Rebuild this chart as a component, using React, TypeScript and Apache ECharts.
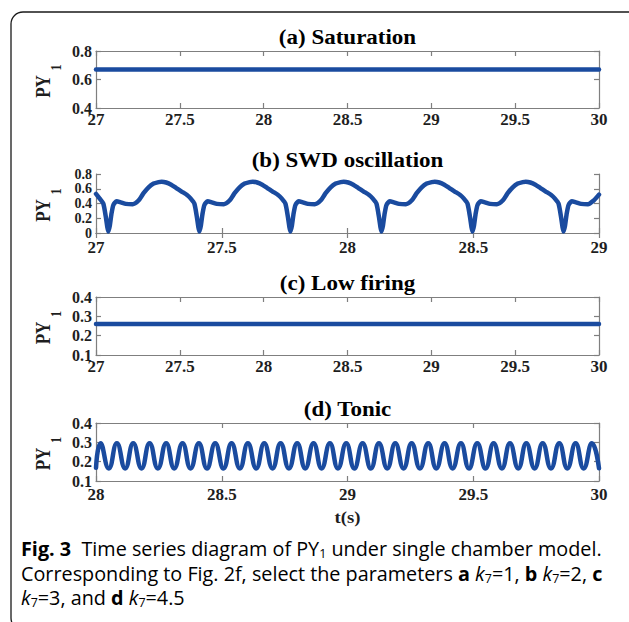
import React, { useEffect, useRef } from "react";
import * as echarts from "echarts";

// ---------- data ----------
const satTime = [27, 30];
const satValues = [0.67, 0.67];

const lowTime = [27, 30];
const lowValues = [0.26, 0.26];

const swdTime = [
  27.0, 27.014, 27.029, 27.039, 27.045,
  27.049, 27.055, 27.061, 27.069, 27.082, 27.099, 27.119, 27.146, 27.169, 27.189, 27.209, 27.229, 27.249, 27.261, 27.279, 27.299, 27.319, 27.339, 27.362, 27.376, 27.391, 27.401, 27.407,
  27.411, 27.417, 27.423, 27.431, 27.444, 27.461, 27.481, 27.508, 27.531, 27.551, 27.571, 27.591, 27.611, 27.623, 27.641, 27.661, 27.681, 27.701, 27.724, 27.738, 27.753, 27.763, 27.769,
  27.773, 27.779, 27.785, 27.793, 27.806, 27.823, 27.843, 27.87, 27.893, 27.913, 27.933, 27.953, 27.973, 27.985, 28.003, 28.023, 28.043, 28.063, 28.086, 28.1, 28.115, 28.125, 28.131,
  28.135, 28.141, 28.147, 28.155, 28.168, 28.185, 28.205, 28.232, 28.255, 28.275, 28.295, 28.315, 28.335, 28.347, 28.365, 28.385, 28.405, 28.425, 28.448, 28.462, 28.477, 28.487, 28.493,
  28.497, 28.503, 28.509, 28.517, 28.53, 28.547, 28.567, 28.594, 28.617, 28.637, 28.657, 28.677, 28.697, 28.709, 28.727, 28.747, 28.767, 28.787, 28.81, 28.824, 28.839, 28.849, 28.855,
  28.859, 28.865, 28.871, 28.879, 28.892, 28.909, 28.929, 28.956, 28.979, 29.0,
];
const swdValues = [
  0.53, 0.47, 0.4, 0.22, 0.08,
  0.02, 0.1, 0.25, 0.38, 0.43, 0.415, 0.395, 0.39, 0.44, 0.54, 0.62, 0.67, 0.69, 0.695, 0.685, 0.655, 0.61, 0.565, 0.516, 0.47, 0.4, 0.22, 0.08,
  0.02, 0.1, 0.25, 0.38, 0.43, 0.415, 0.395, 0.39, 0.44, 0.54, 0.62, 0.67, 0.69, 0.695, 0.685, 0.655, 0.61, 0.565, 0.516, 0.47, 0.4, 0.22, 0.08,
  0.02, 0.1, 0.25, 0.38, 0.43, 0.415, 0.395, 0.39, 0.44, 0.54, 0.62, 0.67, 0.69, 0.695, 0.685, 0.655, 0.61, 0.565, 0.516, 0.47, 0.4, 0.22, 0.08,
  0.02, 0.1, 0.25, 0.38, 0.43, 0.415, 0.395, 0.39, 0.44, 0.54, 0.62, 0.67, 0.69, 0.695, 0.685, 0.655, 0.61, 0.565, 0.516, 0.47, 0.4, 0.22, 0.08,
  0.02, 0.1, 0.25, 0.38, 0.43, 0.415, 0.395, 0.39, 0.44, 0.54, 0.62, 0.67, 0.69, 0.695, 0.685, 0.655, 0.61, 0.565, 0.516, 0.47, 0.4, 0.22, 0.08,
  0.02, 0.1, 0.25, 0.38, 0.43, 0.415, 0.395, 0.39, 0.44, 0.52,
];

const tonicTime = [
  28.0,
  28.018, 28.051, 28.083, 28.116, 28.148, 28.181, 28.213, 28.246, 28.279, 28.311,
  28.344, 28.376, 28.409, 28.441, 28.474, 28.507, 28.539, 28.572, 28.604, 28.637,
  28.669, 28.702, 28.734, 28.767, 28.8, 28.832, 28.865, 28.897, 28.93, 28.962,
  28.995, 29.027, 29.06, 29.093, 29.125, 29.158, 29.19, 29.223, 29.255, 29.288,
  29.321, 29.353, 29.386, 29.418, 29.451, 29.483, 29.516, 29.549, 29.581, 29.614,
  29.646, 29.679, 29.711, 29.744, 29.776, 29.809, 29.842, 29.874, 29.907, 29.939,
  29.972, 30.0,
];
const tonicValues = [
  0.168,
  0.295, 0.165, 0.295, 0.165, 0.295, 0.165, 0.295, 0.165, 0.295, 0.165,
  0.295, 0.165, 0.295, 0.165, 0.295, 0.165, 0.295, 0.165, 0.295, 0.165,
  0.295, 0.165, 0.295, 0.165, 0.295, 0.165, 0.295, 0.165, 0.295, 0.165,
  0.295, 0.165, 0.295, 0.165, 0.295, 0.165, 0.295, 0.165, 0.295, 0.165,
  0.295, 0.165, 0.295, 0.165, 0.295, 0.165, 0.295, 0.165, 0.295, 0.165,
  0.295, 0.165, 0.295, 0.165, 0.295, 0.165, 0.295, 0.165, 0.295, 0.165,
  0.295, 0.166,
];

const panelTitles = ["(a) Saturation", "(b) SWD oscillation", "(c) Low firing", "(d) Tonic"];
const xMins = [27, 27, 27, 28];
const xMaxs = [30, 29, 30, 30];
const xStep = 0.5;
const yMins = [0.4, 0, 0.1, 0.1];
const yMaxs = [0.8, 0.8, 0.4, 0.4];
const ySteps = [0.2, 0.2, 0.1, 0.1];
const yNameMain = "PY";
const yNameSub = "1";
const xName = "t(s)";

// ---------- layout / style ----------
const GRID_LEFT = 96;
const GRID_WIDTH = 503;
const gridTops = [51, 174, 297, 423];
const gridHeights = [57, 59, 58, 58];
const yLabelSizes = [16, 14, 16, 16];
const xLabelMargins = [4, 7, 4, 6];
const LINE_COLOR = "#1a4b9f";
const AXIS_COLOR = "#7f7f7f";
const TEXT_COLOR = "#1e1e1e";
const SERIF = '"Liberation Serif", "Times New Roman", serif';
const SANS = '"Open Sans", "Noto Sans", sans-serif';

const zip = (a: number[], b: number[]) => a.map((t, i) => [t, b[i]]);

export default function App() {
  const ref = useRef<HTMLDivElement>(null);

  useEffect(() => {
    if (!ref.current) return;
    const chart = echarts.init(ref.current, undefined, { renderer: "svg" });

    const seriesData = [zip(satTime, satValues), zip(swdTime, swdValues), zip(lowTime, lowValues), zip(tonicTime, tonicValues)];

    const grids: any[] = [];
    const xAxes: any[] = [];
    const yAxes: any[] = [];
    const series: any[] = [];
    const graphics: any[] = [];

    const labelStyle = { color: TEXT_COLOR, fontFamily: SERIF, fontWeight: "bold", fontSize: 17 };

    for (let i = 0; i < 4; i++) {
      grids.push({ left: GRID_LEFT, top: gridTops[i], width: GRID_WIDTH, height: gridHeights[i], containLabel: false });
      const common = {
        type: "value",
        gridIndex: i,
        min: xMins[i],
        max: xMaxs[i],
        interval: xStep,
        axisLine: { show: true, lineStyle: { color: AXIS_COLOR, width: 1.2 } },
        axisTick: { show: true, inside: true, length: 5, lineStyle: { color: AXIS_COLOR, width: 1.2 } },
        splitLine: { show: false },
      };
      xAxes.push({
        ...common,
        position: "bottom",
        axisLabel: { ...labelStyle, margin: xLabelMargins[i], lineHeight: 14, showMinLabel: true, showMaxLabel: true, hideOverlap: false },
      });
      xAxes.push({ ...common, position: "top", axisLabel: { show: false } });
      const ycommon = {
        type: "value",
        gridIndex: i,
        min: yMins[i],
        max: yMaxs[i],
        interval: ySteps[i],
        axisLine: { show: true, lineStyle: { color: AXIS_COLOR, width: 1.2 } },
        axisTick: { show: true, inside: true, length: 5, lineStyle: { color: AXIS_COLOR, width: 1.2 } },
        splitLine: { show: false },
      };
      yAxes.push({
        ...ycommon,
        position: "left",
        axisLabel: {
          ...labelStyle,
          fontSize: yLabelSizes[i],
          lineHeight: 12,
          margin: 4,
          showMinLabel: true,
          showMaxLabel: true,
          hideOverlap: false,
        },
      });
      yAxes.push({ ...ycommon, position: "right", axisLabel: { show: false } });

      series.push({
        type: "line",
        xAxisIndex: i * 2,
        yAxisIndex: i * 2,
        data: seriesData[i],
        showSymbol: false,
        smooth: i === 3 ? 0.5 : i === 1 ? 0.2 : false,
        lineStyle: { color: LINE_COLOR, width: 4.5, cap: "round", join: "round" },
        silent: true,
      });

      // panel title
      graphics.push({
        type: "text",
        x: GRID_LEFT + GRID_WIDTH / 2,
        y: gridTops[i] - 13,
        scaleX: 1.15,
        style: {
          text: panelTitles[i],
          fill: "#000",
          font: `bold 20px ${SERIF}`,
          align: "center",
          verticalAlign: "middle",
          textAlign: "center",
          textVerticalAlign: "middle",
        },
      });

      // y axis name PY_1 rotated
      const cy = gridTops[i] + gridHeights[i] / 2 + 7;
      graphics.push({
        type: "group",
        x: 43,
        y: cy,
        rotation: Math.PI / 2,
        children: [
          {
            type: "text",
            x: 0,
            y: 0,
            scaleY: 1.25,
            style: {
              text: yNameMain,
              fill: TEXT_COLOR,
              font: `bold 17px ${SERIF}`,
              align: "center",
              verticalAlign: "middle",
              textAlign: "center",
              textVerticalAlign: "middle",
            },
          },
          {
            type: "text",
            x: 19,
            y: 13,
            scaleY: 1.25,
            style: {
              text: yNameSub,
              fill: TEXT_COLOR,
              font: `bold 12px ${SERIF}`,
              align: "center",
              verticalAlign: "middle",
              textAlign: "center",
              textVerticalAlign: "middle",
            },
          },
        ],
      });
    }

    // x-axis name
    graphics.push({
      type: "text",
      x: GRID_LEFT + GRID_WIDTH / 2,
      y: 517,
      scaleX: 1.1,
      style: { text: xName, fill: TEXT_COLOR, font: `bold 17px ${SERIF}`, align: "center", verticalAlign: "middle", textAlign: "center", textVerticalAlign: "middle" },
    });

    // outer frame
    graphics.push({
      type: "rect",
      shape: { x: 11, y: 12, width: 640, height: 618, r: 12 },
      style: { fill: "none", stroke: "#1a1a1a", lineWidth: 1.3 },
      z: -1,
    });

    // caption
    const FS = 19.8;
    const LH = 24;
    const rich = {
      n: { fontFamily: SANS, fontSize: FS, color: "#231f20", lineHeight: LH },
      b: { fontFamily: SANS, fontSize: FS, fontWeight: "bold", color: "#231f20", lineHeight: LH },
      i: { fontFamily: SANS, fontSize: FS, fontStyle: "italic", color: "#231f20", lineHeight: LH },
      l: { fontFamily: SANS, fontSize: FS, color: "#3d6fc4", lineHeight: LH },
      s: { fontFamily: SANS, fontSize: 12.5, color: "#231f20", lineHeight: 13, verticalAlign: "bottom" },
    };
    const captionLines = [
      "{b|Fig. 3}{n|  Time series diagram of PY}{s|1}{n| under single chamber model.}",
      "{n|Corresponding to Fig. }{l|2}{n|f, select the parameters }{b|a}{n| }{i|k}{s|7}{n|=1, }{b|b}{n| }{i|k}{s|7}{n|=2, }{b|c}",
      "{i|k}{s|7}{n|=3, and }{b|d}{n| }{i|k}{s|7}{n|=4.5}",
    ];
    const captionY = [548, 573, 597];
    captionLines.forEach((t, k) => {
      graphics.push({
        type: "text",
        x: 21,
        y: captionY[k],
        style: { text: t, rich, align: "left", verticalAlign: "middle", textAlign: "left", textVerticalAlign: "middle" },
      });
    });

    chart.setOption({
      animation: false,
      backgroundColor: "#ffffff",
      grid: grids,
      xAxis: xAxes,
      yAxis: yAxes,
      series,
      graphic: { elements: graphics },
    });

    return () => chart.dispose();
  }, []);

  return <div ref={ref} style={{ position: "absolute", left: 0, top: 0, width: 629, height: 622 }} />;
}
